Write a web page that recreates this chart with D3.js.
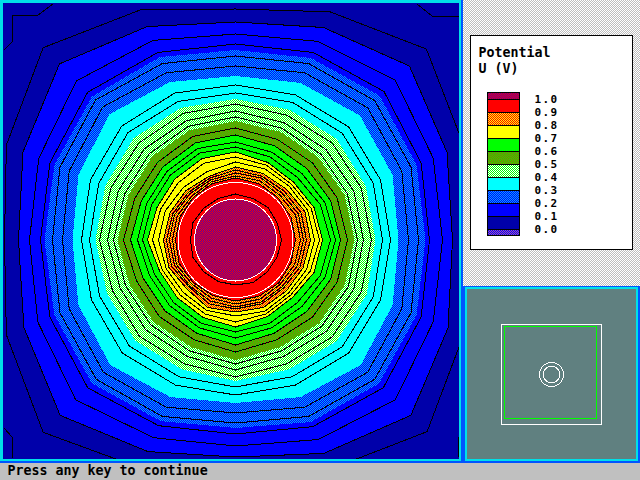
<!DOCTYPE html>
<html>
<head>
<meta charset="utf-8">
<script src="https://cdn.jsdelivr.net/npm/d3@7"></script>
<style>
html,body{margin:0;padding:0;background:#c0c0c0;overflow:hidden}
svg{display:block}
text{font-family:"DejaVu Sans Mono","Liberation Mono",monospace;fill:#000}
</style>
</head>
<body>
<script>
// Directions of every radius list: E, ESE, SE, SSE, S, SSW, SW, WSW, W, WNW, NW, NNW, N, NNE, NE, ENE
const centre = [232.5, 237];
const bandFills = ["blue","hatchBlue","cyan","hatchLight","hatchOlive","green","yellow","hatchOrange","red"];
const bandEdges = [
  [217,230,248,231,217,229,248,229,217,230,249,231,218,230,246,229],
  [190,196,203,197,188,196,203,196,191,196,203,198,190,197,204,196],
  [163,170,177,170,163,170,177,170,163,170,178,171,164,170,176,170],
  [140,142,143,140,141,140,142,139,140,141,144,143,141,141,143,141],
  [119,118,118,116,120,116,116,115,118,116,118,119,119,117,117,118],
  [105,103,101,101,105,101,100,100,105,102,103,105,105,102,101,103],
  [87,85,81,83,87,84,82,82,88,85,86,88,88,84,82,85],
  [75,73,72,73,72,73,69,72,72,71,70,69,73,72,72,75],
  [60,60,61,61,61,60,60,61,60,60,60,61,62,61,60,60]
];
const blackLines = [
  [46,45,45,46,45,45,45,46,45,46,45,45,46,45,46,45],
  [60,60,61,61,61,60,60,61,60,60,60,61,62,61,60,60],
  [65,64,63,64,64,63,62,64,63,63,62,63,64,64,63,65],
  [68,67,66,67,67,66,65,66,66,66,65,65,67,67,66,68],
  [71,70,68,69,69,69,66,69,69,68,67,67,70,69,69,71],
  [75,73,72,73,72,73,69,72,72,71,70,69,73,72,72,75],
  [79,77,75,77,76,76,74,75,77,76,74,74,78,77,76,78],
  [84,81,78,80,82,80,78,79,83,81,81,83,83,81,79,82],
  [87,85,81,83,87,84,82,82,88,85,86,88,88,84,82,85],
  [95,92,88,90,92,90,88,88,93,91,92,94,93,90,88,92],
  [100,97,94,95,98,95,93,93,98,96,97,99,98,95,94,97],
  [105,103,101,101,105,101,100,100,105,102,103,105,105,102,101,103],
  [112,110,109,108,112,108,108,107,112,109,110,112,112,109,109,110],
  [122,122,122,120,124,120,120,119,122,120,122,123,123,121,121,121],
  [128,128,129,126,130,126,127,125,128,127,129,129,129,127,128,128],
  [136,136,137,134,137,134,136,133,136,135,137,137,136,135,137,136],
  [147,149,151,148,147,148,150,147,146,148,152,150,147,149,151,149],
  [155,157,160,157,155,157,160,156,154,157,161,159,155,157,160,157],
  [173,180,187,181,173,181,187,180,173,180,188,181,174,181,187,180],
  [183,190,197,191,183,191,197,190,183,190,198,191,184,191,197,190],
  [194,201,209,202,194,201,209,201,195,201,209,203,196,203,210,201],
  [207,214,226,216,206,214,226,214,206,213,225,216,206,215,226,214],
  [217,230,248,231,217,229,248,229,217,230,249,231,218,230,246,229],
  [231,247,271,248,231,247,272,248,231,248,272,249,231,247,270,247]
];
const cornerLines = [
  [[1,47],[9,39],[9,12],[35,12],[50,1]],
  [[414,1],[429,13],[456,13]],
  [[1,425],[9,434],[9,455]],
  [[455,434],[455,454]]
];
const coreRadius = 41;
const whiteCircles = [41, 57.5];
const legendLevels = [1.0,0.9,0.8,0.7,0.6,0.5,0.4,0.3,0.2,0.1,0.0];
const legendFills = ["hatchCore","red","hatchOrange","yellow","green","hatchOlive","hatchLight","cyan","hatchBlue","blue","darkBlue","hatchPurple"];
const legendTitle = ["Potential","U (V)"];
const statusText = "Press any key to continue";

const solid = {red:"#ff0000",yellow:"#ffff00",green:"#00ff00",cyan:"#00ffff",blue:"#0000ff",darkBlue:"#0000aa"};
const hatches = {
  hatchCore:["#ff0000","#5500aa"],
  hatchOrange:["#ff0000","#ffff00"],
  hatchOlive:["#00ff00","#aa5500"],
  hatchLight:["#00ff00","#ffffff"],
  hatchBlue:["#00aaff","#0000ff"],
  hatchPurple:["#0000ff","#aa55aa"],
  dither:["#ffffff","#bdbdbd"]
};
const paint = k => solid[k] || `url(#${k})`;

const svg = d3.select("body").append("svg").attr("width",640).attr("height",480).attr("shape-rendering","crispEdges");
const defs = svg.append("defs");
const tileSize = 16;
const tileCells = d3.cross(d3.range(tileSize), d3.range(tileSize));
Object.entries(hatches).forEach(([k,[a,b]])=>{
  defs.append("pattern").attr("id",k).attr("width",tileSize).attr("height",tileSize).attr("patternUnits","userSpaceOnUse")
    .selectAll("rect").data(tileCells).join("rect")
    .attr("x",d=>d[0]).attr("y",d=>d[1]).attr("width",1).attr("height",1)
    .attr("fill",d=>(d[0]+d[1])%2 ? b : a);
});
defs.append("clipPath").attr("id","plotClip").append("rect").attr("x",3).attr("y",3).attr("width",456).attr("height",456);

const rect=(x,y,w,h,fill,stroke,sw)=>svg.append("rect").attr("x",x).attr("y",y).attr("width",w).attr("height",h).attr("fill",fill).attr("stroke",stroke||"none").attr("stroke-width",sw||0);

// window furniture
rect(0,463,640,17,"#c0c0c0");
rect(462,0,178,287,"url(#dither)");
rect(0,0,463,463,"#0055ff");
rect(0,0,461,461,"#00e0e8");
rect(463,286,177,177,"#0055ff");
rect(465,287,173,174,"#00e0e8");
rect(467,289,169,170,"#608080");

// scales
const x = d3.scaleLinear().domain([0,456]).range([3,459]);
const y = d3.scaleLinear().domain([0,456]).range([3,459]);
const ang = d3.scaleLinear().domain([0,16]).range([0,2*Math.PI]);
const polar = d3.line().curve(d3.curveLinearClosed)
  .x(d=>x(centre[0]+d.r*Math.cos(d.a)))
  .y(d=>y(centre[1]+d.r*Math.sin(d.a)));
const toPts = rs => rs.map((r,i)=>({r,a:ang(i)}));
const ring = r => d3.range(48).map(i=>({r,a:ang(i/3)}));

const plot = svg.append("g").attr("clip-path","url(#plotClip)");
plot.append("rect").attr("x",x(0)).attr("y",y(0)).attr("width",x(456)-x(0)).attr("height",y(456)-y(0)).attr("fill",solid.darkBlue);
plot.selectAll("path.band").data(bandEdges).join("path").attr("class","band")
  .attr("d",d=>polar(toPts(d))).attr("fill",(d,i)=>paint(bandFills[i]));
plot.append("path").attr("d",polar(ring(coreRadius))).attr("fill",paint("hatchCore"));
plot.selectAll("path.iso").data(blackLines).join("path").attr("class","iso")
  .attr("d",d=>polar(toPts(d))).attr("fill","none").attr("stroke","#000").attr("stroke-width",1);
const open = d3.line().x(d=>x(d[0])).y(d=>y(d[1]));
plot.selectAll("path.corner").data(cornerLines).join("path").attr("class","corner")
  .attr("d",open).attr("fill","none").attr("stroke","#000").attr("stroke-width",1);
plot.selectAll("path.white").data(whiteCircles).join("path").attr("class","white")
  .attr("d",d=>polar(ring(d))).attr("fill","none").attr("stroke","#fff").attr("stroke-width",1);

// legend
rect(470.5,35.5,162,213.5,"#fff","#000",1);
svg.selectAll("text.title").data(legendTitle).join("text").attr("class","title")
  .attr("x",478.5).attr("y",(d,i)=>57+i*15.5).attr("font-size",13.3).attr("font-weight","bold").text(d=>d);
const ly = d3.scaleLinear().domain([1,0]).range([99.3,229.3]);
const step = ly(0)-ly(0.1);
const swatchTop = i => i===0 ? ly(1)-step/2 : ly(legendLevels[i-1]);
const swatchBottom = i => i===legendLevels.length ? ly(0)+step/2 : ly(legendLevels[i]);
svg.selectAll("rect.sw").data(legendFills).join("rect").attr("class","sw")
  .attr("x",487.5).attr("width",32).attr("y",(d,i)=>swatchTop(i)).attr("height",(d,i)=>swatchBottom(i)-swatchTop(i))
  .attr("fill",d=>paint(d)).attr("stroke","#000").attr("stroke-width",1);
svg.selectAll("text.lab").data(legendLevels).join("text").attr("class","lab")
  .attr("x",534.5).attr("y",d=>ly(d)+4).attr("font-size",11).attr("letter-spacing",1.4).attr("font-weight","bold").text(d=>d.toFixed(1));

// key plan
rect(501.5,324.5,100,100,"none","#fff",1);
rect(504.5,326.5,92,92,"none","#00ff00",1);
[12,8.3].forEach(r=>svg.append("circle").attr("cx",551.5).attr("cy",374.5).attr("r",r).attr("fill","none").attr("stroke","#fff").attr("stroke-width",1));

// status line
svg.append("text").attr("x",7.5).attr("y",475).attr("font-size",13.3).attr("font-weight","bold").text(statusText);
</script>
</body>
</html>
